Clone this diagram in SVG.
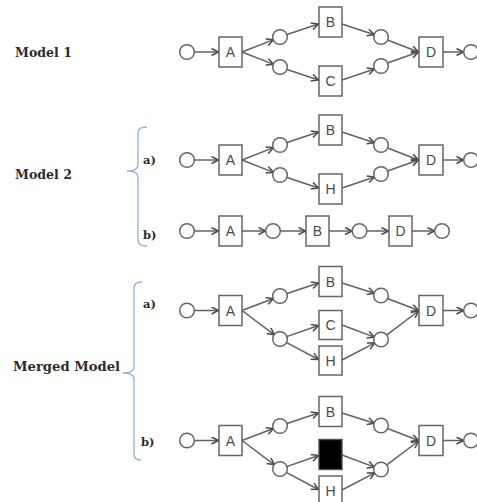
<svg xmlns="http://www.w3.org/2000/svg" width="477" height="502" viewBox="0 0 477 502">
  <style>
    .place { fill: #fff; stroke: #666; stroke-width: 1.5; }
    .trans { fill: #fff; stroke: #666; stroke-width: 1.5; }
    .silent { fill: #000; stroke: #505050; stroke-width: 1.4; }
    .tl { font-family: "Liberation Sans", Arial, sans-serif; font-size: 14px; fill: #4a4a4a; text-anchor: middle; }
    .edge { fill: none; stroke: #626262; stroke-width: 1.5; marker-end: url(#arr); }
    .label { font-family: "DejaVu Serif", "Liberation Serif", serif; font-weight: bold; font-size: 12.5px; fill: #2b2b2b; }
    .sub { font-family: "DejaVu Serif", "Liberation Serif", serif; font-weight: bold; font-size: 11.5px; fill: #2b2b2b; }
    .brace { fill: none; stroke: #8fb0d8; stroke-width: 1.3; }
  </style>
  <defs>
    <marker id="arr" markerWidth="10" markerHeight="10" refX="8" refY="4" orient="auto" markerUnits="userSpaceOnUse">
      <path d="M1,0.5 L8,4 L1,7.5" fill="none" stroke="#4a4a4a" stroke-width="1.5"/>
    </marker>
  </defs>
  <rect width="477" height="502" fill="#fff"/>

  <!-- row labels and braces -->
  <g id="labels">
    <text class="label" x="15" y="57" textLength="57" lengthAdjust="spacingAndGlyphs">Model 1</text>
    <text class="label" x="15" y="179" textLength="57" lengthAdjust="spacingAndGlyphs">Model 2</text>
    <text class="label" x="13" y="371" textLength="107" lengthAdjust="spacingAndGlyphs">Merged Model</text>
    <text class="sub" x="143" y="164">a)</text>
    <text class="sub" x="143" y="239">b)</text>
    <text class="sub" x="143" y="308">a)</text>
    <text class="sub" x="141" y="446">b)</text>
  </g>
  <g id="braces">
    <path class="brace" d="M147,127 Q138,127 138,133 L138,165 Q138,171 127,171 Q138,171 138,177 L138,240 Q138,246 147,246"/>
    <path class="brace" d="M142,282 Q134,282 134,288 L134,367 Q134,373 123,373 Q134,373 134,379 L134,454 Q134,460 141,460"/>
  </g>

  <!-- Model 1 -->
  <g id="model1" transform="translate(0,52)">
    <g id="m1-edges">
      <path class="edge" d="M194,0 L218.5,0"/>
      <path class="edge" d="M242,0 L273.5,-12.4"/>
      <path class="edge" d="M242,0 L273.5,12.4"/>
      <path class="edge" d="M287,-17.5 L318.5,-28"/>
      <path class="edge" d="M287,17.5 L318.5,28"/>
      <path class="edge" d="M342,-28 L374.4,-17.3"/>
      <path class="edge" d="M342,28 L374.5,17"/>
      <path class="edge" d="M387.5,-12 L418.5,0"/>
      <path class="edge" d="M387.5,11 L418.5,0"/>
      <path class="edge" d="M443,0 L463.5,0"/>
    </g>
    <g id="m1-start"><circle class="place" cx="187" cy="0" r="7.3"/></g>
    <g id="m1-A"><rect class="trans" x="219" y="-15" width="23" height="30"/><text class="tl" x="230.5" y="5">A</text></g>
    <g id="m1-p1"><circle class="place" cx="280" cy="-15" r="7.3"/></g>
    <g id="m1-p2"><circle class="place" cx="280" cy="15" r="7.3"/></g>
    <g id="m1-B"><rect class="trans" x="319" y="-45" width="23" height="30"/><text class="tl" x="330.5" y="-25">B</text></g>
    <g id="m1-C"><rect class="trans" x="319" y="14" width="23" height="30"/><text class="tl" x="330.5" y="34">C</text></g>
    <g id="m1-p3"><circle class="place" cx="381" cy="-15" r="7.3"/></g>
    <g id="m1-p4"><circle class="place" cx="381" cy="14" r="7.3"/></g>
    <g id="m1-D"><rect class="trans" x="419" y="-15" width="24" height="30"/><text class="tl" x="431" y="5">D</text></g>
    <g id="m1-end"><circle class="place" cx="471" cy="0" r="7.3"/></g>
  </g>

  <!-- Model 2 a) -->
  <g id="model2a" transform="translate(0,160)">
    <g id="m2a-edges">
      <path class="edge" d="M194,0 L218.5,0"/>
      <path class="edge" d="M242,0 L273.5,-12.4"/>
      <path class="edge" d="M242,0 L273.5,12.4"/>
      <path class="edge" d="M287,-17.5 L318.5,-28"/>
      <path class="edge" d="M287,17.5 L318.5,28"/>
      <path class="edge" d="M342,-28 L374.4,-17.3"/>
      <path class="edge" d="M342,28 L374.5,17"/>
      <path class="edge" d="M387.5,-12 L418.5,0"/>
      <path class="edge" d="M387.5,11 L418.5,0"/>
      <path class="edge" d="M443,0 L463.5,0"/>
    </g>
    <g id="m2a-start"><circle class="place" cx="187" cy="0" r="7.3"/></g>
    <g id="m2a-A"><rect class="trans" x="219" y="-15" width="23" height="30"/><text class="tl" x="230.5" y="5">A</text></g>
    <g id="m2a-p1"><circle class="place" cx="280" cy="-15" r="7.3"/></g>
    <g id="m2a-p2"><circle class="place" cx="280" cy="15" r="7.3"/></g>
    <g id="m2a-B"><rect class="trans" x="319" y="-45" width="23" height="30"/><text class="tl" x="330.5" y="-25">B</text></g>
    <g id="m2a-H"><rect class="trans" x="319" y="14" width="23" height="30"/><text class="tl" x="330.5" y="34">H</text></g>
    <g id="m2a-p3"><circle class="place" cx="381" cy="-15" r="7.3"/></g>
    <g id="m2a-p4"><circle class="place" cx="381" cy="14" r="7.3"/></g>
    <g id="m2a-D"><rect class="trans" x="419" y="-15" width="24" height="30"/><text class="tl" x="431" y="5">D</text></g>
    <g id="m2a-end"><circle class="place" cx="471" cy="0" r="7.3"/></g>
  </g>

  <!-- Model 2 b) -->
  <g id="model2b" transform="translate(0,231)">
    <g id="m2b-edges">
      <path class="edge" d="M194,0 L218.5,0"/>
      <path class="edge" d="M242,0 L265.5,0"/>
      <path class="edge" d="M280,0 L305.5,0"/>
      <path class="edge" d="M329,0 L352,0"/>
      <path class="edge" d="M366.5,0 L388.5,0"/>
      <path class="edge" d="M412,0 L434.5,0"/>
    </g>
    <g id="m2b-start"><circle class="place" cx="187" cy="0" r="7.3"/></g>
    <g id="m2b-A"><rect class="trans" x="219" y="-15" width="23" height="30"/><text class="tl" x="230.5" y="5">A</text></g>
    <g id="m2b-p1"><circle class="place" cx="273" cy="0" r="7.3"/></g>
    <g id="m2b-B"><rect class="trans" x="306" y="-15" width="23" height="30"/><text class="tl" x="317.5" y="5">B</text></g>
    <g id="m2b-p2"><circle class="place" cx="359.5" cy="0" r="7.3"/></g>
    <g id="m2b-D"><rect class="trans" x="389" y="-15" width="23" height="30"/><text class="tl" x="400.5" y="5">D</text></g>
    <g id="m2b-end"><circle class="place" cx="442" cy="0" r="7.3"/></g>
  </g>

  <!-- Merged model a) -->
  <g id="mergedA" transform="translate(0,310.5)">
    <g id="ma-edges">
      <path class="edge" d="M194,0 L218.5,0"/>
      <path class="edge" d="M242,0 L273.5,-12"/>
      <path class="edge" d="M242,0 L274.4,24.3"/>
      <path class="edge" d="M287,-17 L318.5,-27.5"/>
      <path class="edge" d="M286.6,26.1 L318.5,15"/>
      <path class="edge" d="M286.2,31.8 L318.5,49"/>
      <path class="edge" d="M342,-27.5 L374.4,-17.3"/>
      <path class="edge" d="M342,14.5 L374.4,26.6"/>
      <path class="edge" d="M342,49.5 L374.8,32.3"/>
      <path class="edge" d="M387.5,-12 L418.5,0"/>
      <path class="edge" d="M386.6,24.7 L418.5,0.5"/>
      <path class="edge" d="M443,0 L463.5,0"/>
    </g>
    <g id="ma-start"><circle class="place" cx="187" cy="0" r="7.3"/></g>
    <g id="ma-A"><rect class="trans" x="219" y="-15" width="23" height="30"/><text class="tl" x="230.5" y="5">A</text></g>
    <g id="ma-p1"><circle class="place" cx="280" cy="-14.5" r="7.3"/></g>
    <g id="ma-p2"><circle class="place" cx="280" cy="28.5" r="7.3"/></g>
    <g id="ma-B"><rect class="trans" x="319" y="-44" width="23" height="30"/><text class="tl" x="330.5" y="-24">B</text></g>
    <g id="ma-C"><rect class="trans" x="319" y="0" width="23" height="29"/><text class="tl" x="330.5" y="19.5">C</text></g>
    <g id="ma-H"><rect class="trans" x="319" y="35.5" width="23" height="29"/><text class="tl" x="330.5" y="55">H</text></g>
    <g id="ma-p3"><circle class="place" cx="381" cy="-15" r="7.3"/></g>
    <g id="ma-p4"><circle class="place" cx="381" cy="29" r="7.3"/></g>
    <g id="ma-D"><rect class="trans" x="419" y="-15" width="24" height="30"/><text class="tl" x="431" y="5">D</text></g>
    <g id="ma-end"><circle class="place" cx="471" cy="0" r="7.3"/></g>
  </g>

  <!-- Merged model b) with a silent transition -->
  <g id="mergedB" transform="translate(0,440.5)">
    <g id="mb-edges">
      <path class="edge" d="M194,0 L218.5,0"/>
      <path class="edge" d="M242,0 L273.5,-12"/>
      <path class="edge" d="M242,0 L274.4,24.3"/>
      <path class="edge" d="M287,-17 L318.5,-27.5"/>
      <path class="edge" d="M286.6,26.1 L318.5,15"/>
      <path class="edge" d="M286.2,31.8 L318.5,49"/>
      <path class="edge" d="M342,-27.5 L374.4,-17.3"/>
      <path class="edge" d="M342,14.5 L374.4,26.6"/>
      <path class="edge" d="M342,49.5 L374.8,32.3"/>
      <path class="edge" d="M387.5,-12 L418.5,0"/>
      <path class="edge" d="M386.6,24.7 L418.5,0.5"/>
      <path class="edge" d="M443,0 L463.5,0"/>
    </g>
    <g id="mb-start"><circle class="place" cx="187" cy="0" r="7.3"/></g>
    <g id="mb-A"><rect class="trans" x="219" y="-15" width="23" height="30"/><text class="tl" x="230.5" y="5">A</text></g>
    <g id="mb-p1"><circle class="place" cx="280" cy="-14.5" r="7.3"/></g>
    <g id="mb-p2"><circle class="place" cx="280" cy="28.5" r="7.3"/></g>
    <g id="mb-B"><rect class="trans" x="319" y="-44" width="23" height="30"/><text class="tl" x="330.5" y="-24">B</text></g>
    <g id="mb-tau"><rect class="silent" x="319" y="-1" width="23" height="30"/></g>
    <g id="mb-H"><rect class="trans" x="319" y="35.5" width="23" height="29"/><text class="tl" x="330.5" y="55">H</text></g>
    <g id="mb-p3"><circle class="place" cx="381" cy="-15" r="7.3"/></g>
    <g id="mb-p4"><circle class="place" cx="381" cy="29" r="7.3"/></g>
    <g id="mb-D"><rect class="trans" x="419" y="-15" width="24" height="30"/><text class="tl" x="431" y="5">D</text></g>
    <g id="mb-end"><circle class="place" cx="471" cy="0" r="7.3"/></g>
  </g>
</svg>
